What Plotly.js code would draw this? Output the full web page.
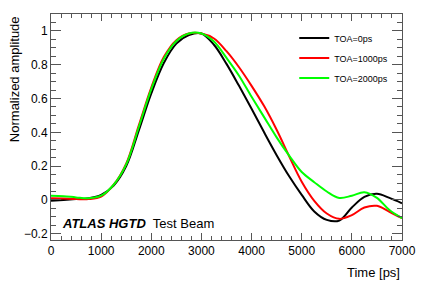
<!DOCTYPE html>
<html>
<head>
<meta charset="utf-8">
<script src="https://cdn.plot.ly/plotly-3.0.1.min.js"></script>
<style>html,body{margin:0;padding:0;background:#fff;}#chart{width:424px;height:287px;}</style>
</head>
<body>
<div id="chart"></div>
<script>
const time = [0, 250, 500, 750, 1000, 1250, 1500, 1750, 2000, 2250, 2500, 2750, 3000, 3250, 3500, 3750, 4000, 4250, 4500, 4750, 5000, 5250, 5500, 5750, 6000, 6250, 6500, 6750, 7000];
const toa0 = [-0.005, 0.0, 0.005, 0.01, 0.03, 0.085, 0.2, 0.41, 0.63, 0.81, 0.925, 0.975, 0.985, 0.918, 0.805, 0.675, 0.54, 0.40, 0.265, 0.14, 0.03, -0.068, -0.118, -0.122, -0.045, 0.018, 0.036, 0.012, -0.02];
const toa1000 = [0.01, 0.008, 0.005, 0.005, 0.02, 0.09, 0.215, 0.44, 0.665, 0.845, 0.945, 0.985, 0.985, 0.955, 0.88, 0.785, 0.675, 0.555, 0.415, 0.258, 0.108, -0.005, -0.08, -0.112, -0.09, -0.045, -0.035, -0.07, -0.108];
const toa2000 = [0.025, 0.022, 0.015, 0.01, 0.025, 0.09, 0.21, 0.43, 0.655, 0.835, 0.94, 0.985, 0.985, 0.937, 0.84, 0.735, 0.61, 0.49, 0.37, 0.262, 0.165, 0.105, 0.05, 0.012, 0.025, 0.045, 0.012, -0.06, -0.108];
const seriesNames = ["TOA=0ps", "TOA=1000ps", "TOA=2000ps"];
const seriesColors = ["#000000", "#ff0000", "#00ff00"];
const xTitle = "Time [ps]";
const yTitle = "Normalized amplitude";

const ys = [toa0, toa1000, toa2000];
const traces = ys.map((y, i) => ({
  x: time, y: y, type: 'scatter', mode: 'lines', name: seriesNames[i],
  legendgroup: 'g' + i,
  line: {color: seriesColors[i], width: 2, shape: 'spline', smoothing: 1}
}));

const axisCommon = {
  showgrid: false, zeroline: false, showline: true, linecolor: '#555', linewidth: 1,
  mirror: 'ticks', ticks: 'inside', tickcolor: '#555', tickwidth: 1,
  tickfont: {family: 'Liberation Sans, Arial, sans-serif', size: 12, color: '#000'}
};

const layout = {
  width: 424, height: 287,
  margin: {l: 51, r: 22, t: 14, b: 47},
  paper_bgcolor: '#fff', plot_bgcolor: '#fff',
  font: {family: 'Liberation Sans, Arial, sans-serif', color: '#000'},
  showlegend: true,
  legend: {
    x: 0.693, y: 0.958, xanchor: 'left', yanchor: 'top',
    bgcolor: 'rgba(0,0,0,0)', borderwidth: 0,
    font: {size: 9, color: '#000'},
    itemwidth: 30, traceorder: 'grouped', tracegroupgap: 1
  },
  xaxis: Object.assign({}, axisCommon, {
    range: [0, 7000], dtick: 1000, tick0: 0, ticklen: 7,
    minor: {dtick: 200, ticks: 'inside', ticklen: 4, tickcolor: '#555', showgrid: false}
  }),
  yaxis: Object.assign({}, axisCommon, {
    range: [-0.237, 1.1], dtick: 0.2, tick0: 0, ticklen: 10,
    minor: {dtick: 0.05, ticks: 'inside', ticklen: 5, tickcolor: '#555', showgrid: false}
  }),
  annotations: [
    {xref: 'paper', yref: 'y', x: 0.026, y: -0.142, xanchor: 'left', yanchor: 'middle', showarrow: false,
     text: '<b><i>ATLAS HGTD</i></b>\u00a0 Test Beam', font: {size: 13, color: '#000'}},
    {xref: 'paper', yref: 'paper', x: 1.0, y: -0.145, xanchor: 'right', yanchor: 'middle', showarrow: false,
     text: xTitle, font: {size: 13, color: '#000'}},
    {xref: 'paper', yref: 'paper', x: -0.105, y: 1.0, xanchor: 'center', yanchor: 'top', showarrow: false,
     textangle: -90, text: yTitle, font: {size: 13, color: '#000'}}
  ]
};

Plotly.newPlot('chart', traces, layout, {staticPlot: true, displayModeBar: false});
</script>
</body>
</html>
